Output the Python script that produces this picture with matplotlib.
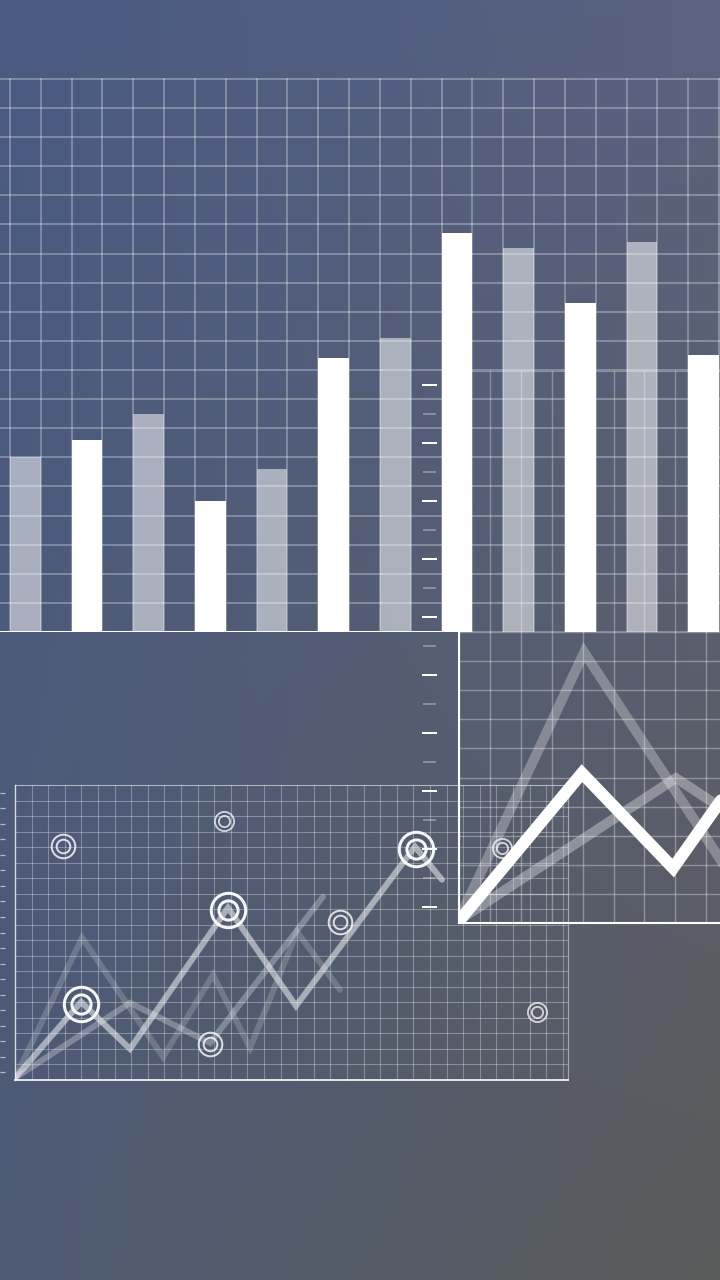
import numpy as np
import matplotlib
matplotlib.use("Agg")
import matplotlib.pyplot as plt
from matplotlib.colors import to_rgb

# ---------------- data ----------------
bar_values = [6.0, 6.6, 7.5, 4.5, 5.6, 9.4, 10.1, 13.7, 13.2, 11.3, 13.4, 9.5]
bar_styles = ["ghost", "solid"] * 6

zoom_main_x = [0.0, 3.98, 6.93, 10.0]
zoom_main_y = [0.07, 5.15, 1.89, 6.5]
zoom_peak_x = [0.03, 4.05, 9.5]
zoom_peak_y = [0.2, 9.3, 0.5]
zoom_slow_x = [0.0, 7.02, 10.0]
zoom_slow_y = [0.1, 4.98, 2.9]

trend_main_x = [0.0, 3.98, 6.93, 12.83, 16.93, 24.1, 25.72]
trend_main_y = [0.13, 5.03, 2.0, 11.1, 4.77, 15.03, 12.9]
trend_faint_x = [0.0, 4.04, 8.92, 11.93, 14.16, 16.99, 19.58]
trend_faint_y = [0.13, 9.16, 1.48, 6.77, 2.06, 9.55, 5.81]
trend_mid_x = [0.0, 6.93, 11.75, 18.55]
trend_mid_y = [0.13, 4.97, 2.39, 11.8]

ring_x = [2.89, 12.59, 3.98, 12.83, 11.75, 19.58, 24.16, 29.34, 31.45]
ring_y = [15.1, 16.71, 4.9, 10.97, 2.32, 10.19, 14.9, 14.97, 4.39]
ring_kind = ["medium", "small", "large", "large", "medium", "medium", "large", "small", "small"]

scale_major = list(range(10))
scale_minor = [k + 0.5 for k in range(9)]

# ---------------- figure ----------------
W, H, DPI = 720, 1280, 100
PX = 72.0 / DPI
fig = plt.figure(figsize=(W / DPI, H / DPI), dpi=DPI)


def px_axes(x0, y0, x1, y1, z):
    ax = fig.add_axes([x0 / W, 1 - y1 / H, (x1 - x0) / W, (y1 - y0) / H], zorder=z)
    ax.set_facecolor("none")
    ax.tick_params(length=0, labelbottom=False, labelleft=False)
    for s in ax.spines.values():
        s.set_visible(False)
    return ax


# background gradient
bg = fig.add_axes([0, 0, 1, 1], zorder=-5)
tl, tr, bl, br = [np.array(to_rgb(c)) for c in ("#4a5a82", "#5a6380", "#4e5b74", "#5b5b5b")]
u = np.linspace(0, 1, 240)[None, :, None]
v = np.linspace(0, 1, 420)[:, None, None]
img = (1 - v) * ((1 - u) * tl + u * tr) + v * ((1 - u) * bl + u * br)
bg.imshow(img, aspect="auto", extent=[0, 1, 0, 1], origin="upper")
bg.axis("off")

# ---------------- top bar chart ----------------
col = 30.83
axb = px_axes(0, 78, 720, 632, 1)
axb.set_xlim(-10 / col, 710 / col)
axb.set_ylim(0, 19.03)
axb.set_xticks(range(24))
axb.set_yticks(range(20))
axb.grid(True, color="white", alpha=0.36, lw=1.1)
axb.set_axisbelow(True)
xs = [2 * i + 0.5 for i in range(len(bar_values))]
for x, val, st in zip(xs, bar_values, bar_styles):
    if st == "solid":
        axb.bar(x, val, width=1.0, color="white", zorder=3)
    else:
        axb.bar(x, val, width=1.0, color="white", alpha=0.52, zorder=2)
axb.axhline(0, xmin=0, xmax=459 / 720, color="white", lw=1.4, zorder=4)

# ghost grid overlay (behind bars)
axg = px_axes(459, 371, 720, 632, 0.5)
axg.set_xlim(0, 261 / 30.9)
axg.set_ylim(0, 1)
axg.set_xticks(range(1, 9))
axg.set_yticks([])
axg.grid(axis="x", color="white", alpha=0.3, lw=1.0)
axg.spines["top"].set_visible(True)
axg.spines["top"].set_color((1, 1, 1, 0.3))

# ---------------- bottom-left trend chart ----------------
axl = px_axes(15, 785, 568, 1080, 2)
axl.set_xlim(0, 553 / 16.6)
axl.set_ylim(0, 19)
axl.set_xticks(range(34))
axl.set_yticks(range(20))
axl.grid(True, color="white", alpha=0.3, lw=0.8)
axl.set_axisbelow(True)
for side, a, lw in (("bottom", 0.9, 1.3), ("left", 0.7, 1.0), ("top", 0.35, 0.8), ("right", 0.45, 0.9)):
    axl.spines[side].set_visible(True)
    axl.spines[side].set_color((1, 1, 1, a))
    axl.spines[side].set_linewidth(lw)

axl.plot(trend_faint_x, trend_faint_y, color="white", alpha=0.18, lw=6 * PX,
         solid_joinstyle="miter", solid_capstyle="round", zorder=3)
axl.plot(trend_mid_x, trend_mid_y, color="white", alpha=0.28, lw=6 * PX,
         solid_joinstyle="miter", solid_capstyle="round", zorder=3)
axl.plot(trend_main_x, trend_main_y, color="white", alpha=0.5, lw=6 * PX,
         solid_joinstyle="miter", solid_capstyle="round", zorder=4)

ring_style = {
    "large": dict(outer=17.2, inner=9.6, width=3.0, alpha=0.95),
    "medium": dict(outer=11.8, inner=6.8, width=2.0, alpha=0.8),
    "small": dict(outer=9.6, inner=5.6, width=1.8, alpha=0.75),
}
for x, y, k in zip(ring_x, ring_y, ring_kind):
    st = ring_style[k]
    for r in (st["outer"], st["inner"]):
        axl.plot([x], [y], "o", ms=2 * r * PX, mfc="none",
                 mec=(1, 1, 1, st["alpha"]), mew=st["width"] * PX, zorder=6, clip_on=False)

# left edge small ticks
axs = px_axes(0, 785, 6, 1080, 2)
axs.set_ylim(0, 19)
axs.set_xticks([])
axs.set_yticks([k + 0.5 for k in range(19)])
axs.tick_params(axis="y", direction="in", length=5 * PX, width=0.9, color=(1, 1, 1, 0.6))

# ---------------- right zoom chart ----------------
axr = px_axes(459, 632, 720, 923, 3)
axr.set_xlim(0, 261 / 30.9)
axr.set_ylim(0, 10)
axr.set_xticks(range(9))
axr.set_yticks(range(11))
axr.grid(True, color="white", alpha=0.33, lw=1.0)
axr.set_axisbelow(True)
for side in ("left", "bottom"):
    axr.spines[side].set_visible(True)
    axr.spines[side].set_color("white")
    axr.spines[side].set_linewidth(1.5)
axr.plot(zoom_peak_x, zoom_peak_y, color="white", alpha=0.28, lw=10 * PX,
         solid_joinstyle="miter", zorder=3)
axr.plot(zoom_slow_x, zoom_slow_y, color="white", alpha=0.33, lw=10 * PX,
         solid_joinstyle="miter", zorder=3)
axr.plot(zoom_main_x, zoom_main_y, color="white", lw=12 * PX,
         solid_joinstyle="miter", solid_capstyle="round", zorder=5)

# ---------------- vertical scale ticks ----------------
axt = px_axes(429, 384, 430, 908, 4)
axt.set_ylim(-0.01, 9.01)
axt.set_xticks([])
axt.set_yticks(scale_major)
axt.set_yticks(scale_minor, minor=True)
axt.tick_params(axis="y", which="major", direction="inout", length=15 * PX,
                width=2 * PX * 1.0, color="white", labelleft=False)
axt.tick_params(axis="y", which="minor", direction="inout", length=13 * PX,
                width=1.5 * PX, color=(1, 1, 1, 0.4), labelleft=False)

fig.savefig("out.png", dpi=DPI)
